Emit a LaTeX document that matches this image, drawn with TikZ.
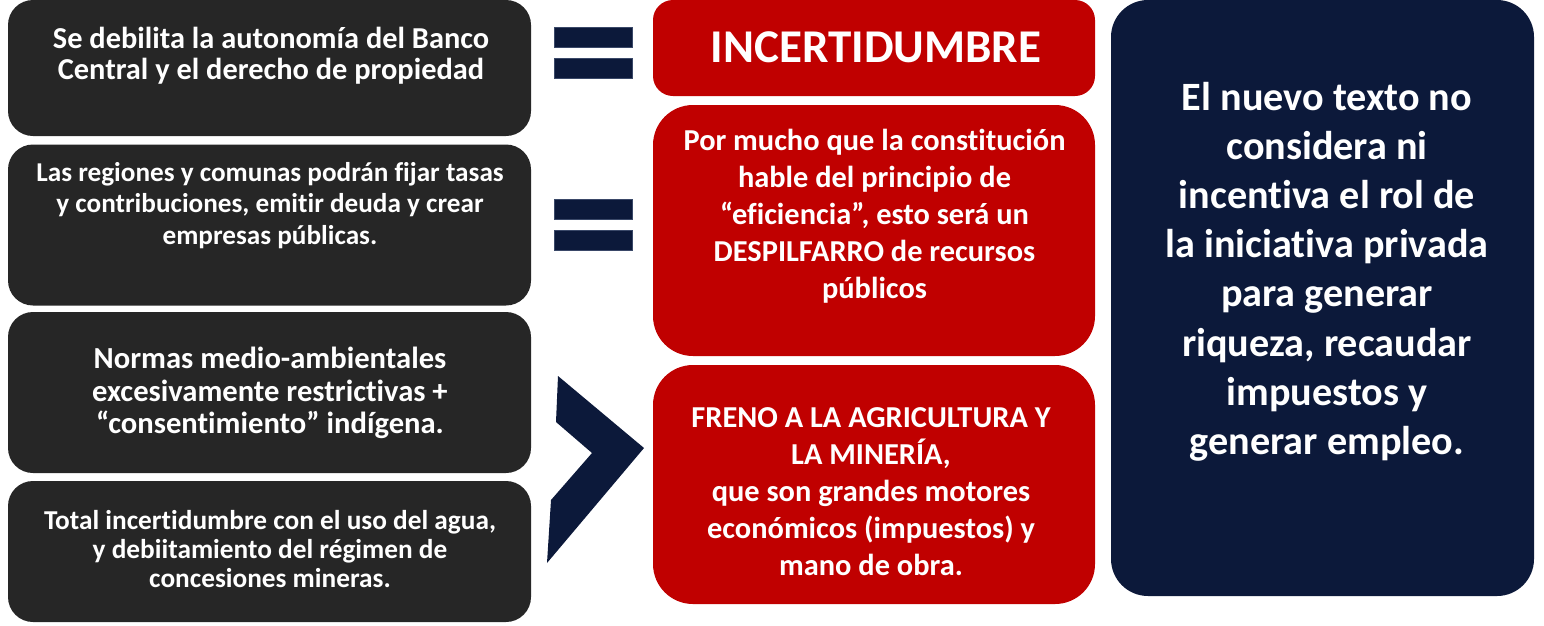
\documentclass[tikz,border=0pt]{standalone}
\usepackage{fontspec}
\setmainfont{Carlito}[Ligatures=NoCommon]
\definecolor{darkbox}{HTML}{262626}
\definecolor{redbox}{HTML}{C00000}
\definecolor{navybox}{HTML}{0C193A}
\definecolor{navyedge}{HTML}{3A4868}
\begin{document}
\begin{tikzpicture}[x=1pt,y=-1pt,
  lbox/.style={fill=darkbox, inner sep=0pt, outer sep=0pt, minimum width=523pt, rounded corners=25pt},
  rbox/.style={fill=redbox, inner sep=0pt, outer sep=0pt, minimum width=442pt},
  nbox/.style={fill=navybox, inner sep=0pt, outer sep=0pt, rounded corners=37pt},
  bar/.style={fill=navybox, draw=navyedge, line width=0.6pt},
  txt/.style={text=white, align=center, inner sep=0pt}]
\useasboundingbox (0,0) rectangle (1544,625);

% left boxes
\node[lbox, minimum height=136pt] (l1) at (269.5,68) {};
\node[lbox, minimum height=161pt] (l2) at (269.5,225) {};
\node[lbox, minimum height=161pt] (l3) at (269.5,392.5) {};
\node[lbox, minimum height=141pt] (l4) at (269.5,551.5) {};

\node[txt, font={\bfseries\fontsize{30.4}{31}\selectfont}] (t1) at (271,56)
  {Se debilita la autonomía del Banco\\Central y el derecho de propiedad};
\node[txt, font={\bfseries\fontsize{27.2}{31.5}\selectfont}] (t2) at (270,205.5)
  {Las regiones y comunas podrán fijar tasas\\y contribuciones, emitir deuda y crear\\empresas públicas.};
\node[txt, font={\bfseries\fontsize{30.6}{32.5}\selectfont}] (t3) at (270,393)
  {Normas medio-ambientales\\excesivamente restrictivas +\\“consentimiento” indígena.};
\node[txt, font={\bfseries\fontsize{27.3}{29}\selectfont}] (t4) at (270,549)
  {Total incertidumbre con el uso del agua,\\y debiitamiento del régimen de\\concesiones mineras.};

% equals signs
\draw[bar] (554,27) rectangle (632,47);
\draw[bar] (554,58) rectangle (632,78);
\draw[bar] (554,199) rectangle (632,219);
\draw[bar] (554,230) rectangle (632,250);

% chevron
\fill[navybox] (558,376) -- (644,448) -- (547,563) -- (551,500) -- (592,453) -- (556,422) -- cycle;

% red boxes
\node[rbox, minimum height=96pt, rounded corners=20pt] (r1) at (874,48) {};
\node[rbox, minimum height=251pt, rounded corners=40pt] (r2) at (874,230.5) {};
\node[rbox, minimum height=239pt, rounded corners=40pt] (r3) at (874,484.5) {};

\node[txt, font={\bfseries\fontsize{47}{50}\selectfont}] (tr1) at (876,47) {INCERTIDUMBRE};
\node[txt, font={\bfseries\fontsize{30.4}{37}\selectfont}] (tr2) at (874.5,216.5)
  {Por mucho que la constitución\\hable del principio de\\“eficiencia”, esto será un\\DESPILFARRO de recursos\\públicos};
\node[txt, font={\bfseries\fontsize{30.4}{37}\selectfont}] (tr3) at (871,492)
  {FRENO A LA AGRICULTURA Y\\LA MINERÍA,\\que son grandes motores\\económicos (impuestos) y\\mano de obra.};

% navy box
\node[nbox, minimum width=423pt, minimum height=596pt] (n1) at (1322.5,298) {};
\node[txt, font={\bfseries\fontsize{40.2}{49.2}\selectfont}] (tn1) at (1327,271.5)
  {El nuevo texto no\\considera ni\\incentiva el rol de\\la iniciativa privada\\para generar\\riqueza, recaudar\\impuestos y\\generar empleo.};
\end{tikzpicture}
\end{document}
